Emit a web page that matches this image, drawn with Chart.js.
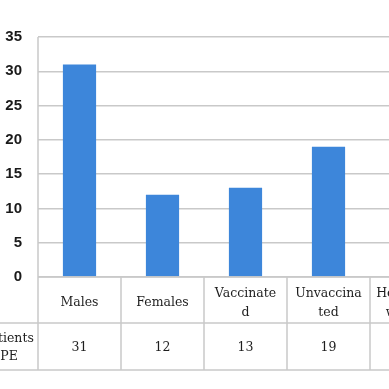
<!DOCTYPE html>
<html>
<head>
<meta charset="utf-8">
<script src="https://cdn.jsdelivr.net/npm/chart.js"></script>
<style>
  html, body { margin: 0; padding: 0; background: #fff; overflow: hidden; }
  canvas { display: block; }
</style>
</head>
<body>
<canvas id="grafica" width="460" height="389"></canvas>
<script>
const $grafica = document.querySelector("#grafica");

const categorias = ["Males", "Females", "Vaccinated", "Unvaccinated", "Healthcare workers"];
// lines as they appear in the table cells
const etiquetasTabla = [["Males"], ["Females"], ["Vaccinate", "d"], ["Unvaccina", "ted"], ["Healthcare", "workers"]];
const pacientes = [31, 12, 13, 19, null];
const filaTitulo = ["No. of patients", "with PPE"];

const colorLinea = '#c9c9c9';
const fuenteTabla = '12.5px "DejaVu Serif"';

// draws the data table under the plot
const tablaDatos = {
    id: 'tablaDatos',
    afterDraw(chart) {
        const ctx = chart.ctx;
        const area = chart.chartArea;
        const x = chart.scales.x;
        const paso = area.width / categorias.length;
        const fila1 = area.bottom + 46;
        const fila2 = fila1 + 47;

        ctx.save();
        ctx.strokeStyle = colorLinea;
        ctx.lineWidth = 1.5;
        ctx.beginPath();
        ctx.moveTo(area.left, area.top);
        ctx.lineTo(area.left, fila2);
        ctx.moveTo(area.left, area.bottom);
        ctx.lineTo(area.right, area.bottom);
        ctx.moveTo(0, fila1);
        ctx.lineTo(area.right, fila1);
        ctx.moveTo(0, fila2);
        ctx.lineTo(area.right, fila2);
        for (let i = 1; i <= categorias.length; i++) {
            const xx = area.left + i * paso;
            ctx.moveTo(xx, area.bottom);
            ctx.lineTo(xx, fila2);
        }
        ctx.stroke();

        ctx.fillStyle = '#1e1e1e';
        ctx.font = fuenteTabla;
        ctx.textAlign = 'center';
        ctx.textBaseline = 'middle';
        etiquetasTabla.forEach((lineas, i) => {
            const cx = x.getPixelForValue(i);
            const medio = (area.bottom + fila1) / 2 + 3;
            const inicio = medio - (lineas.length - 1) * 9.5;
            lineas.forEach((l, j) => ctx.fillText(l, cx, inicio + j * 19));
            if (pacientes[i] !== null) {
                ctx.fillText(String(pacientes[i]), cx, (fila1 + fila2) / 2 + 1);
            }
        });
        ctx.fillText(filaTitulo[0], -13, fila1 + 16);
        ctx.fillText(filaTitulo[1], -11, fila1 + 34);
        ctx.restore();
    }
};

new Chart($grafica, {
    type: 'bar',
    data: {
        labels: categorias,
        datasets: [{
            label: "Patients with PPE",
            data: pacientes,
            backgroundColor: '#3d86da',
            borderWidth: 0,
            categoryPercentage: 1,
            barPercentage: 0.4,
        }]
    },
    options: {
        responsive: false,
        animation: false,
        layout: { padding: { top: 37, bottom: 112, left: 0, right: 7 } },
        plugins: {
            legend: { display: false },
            tooltip: { enabled: false },
        },
        scales: {
            x: { display: false },
            y: {
                min: 0,
                max: 35,
                ticks: {
                    stepSize: 5,
                    padding: 16,
                    color: '#1a1a1a',
                    font: { family: '"Liberation Sans"', size: 15, weight: 'bold' },
                },
                grid: { color: colorLinea, lineWidth: 1.5, drawTicks: false },
                border: { display: false },
                afterFit(scale) { scale.width = 38; },
            }
        }
    },
    plugins: [tablaDatos],
});
</script>
</body>
</html>
